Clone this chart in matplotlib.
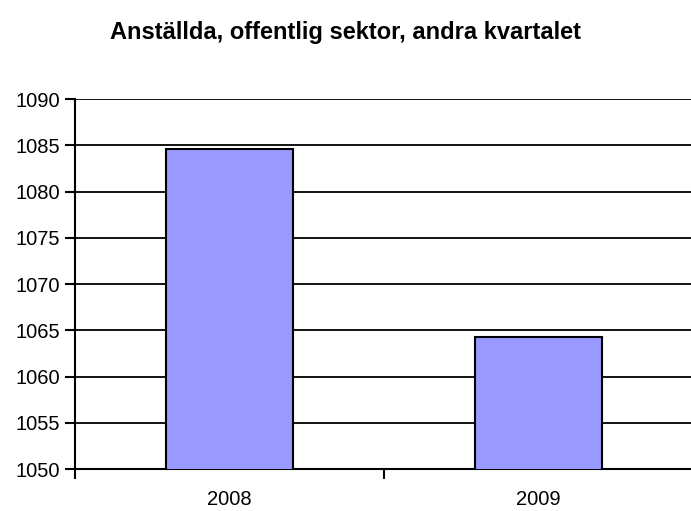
import numpy as np
import matplotlib.pyplot as plt

#----------------------------------------------------------------
#   DATA
#----------------------------------------------------------------
years = ["2008", "2009"]
employed = [1084.6, 1064.3]   # anställda, tusental
y_ticks = [1050, 1055, 1060, 1065, 1070, 1075, 1080, 1085, 1090]
title = "Anställda, offentlig sektor, andra kvartalet"

plt.rcParams['font.family'] = ['Liberation Sans', 'DejaVu Sans']

#----------------------------------------------------------------
#   PLOT
#----------------------------------------------------------------
fig = plt.figure(figsize=(6.91, 5.11), dpi=100)
ax = fig.add_axes([75 / 691, 1 - 469 / 511, 1 - 75 / 691 + 0.003, (469 - 99) / 511])

x = np.arange(len(years))
ax.bar(x, employed, width=0.41, color="#9999FF", edgecolor="black", linewidth=1.5, zorder=3)

ax.set_ylim(1050, 1090)
ax.set_xlim(-0.5, len(years) - 0.5)
ax.set_yticks(y_ticks)
ax.set_yticklabels([str(t) for t in y_ticks], fontsize=14.5)
ax.yaxis.grid(True, color="black", linewidth=1.3, zorder=0)
ax.set_axisbelow(True)

# category boundaries as ticks, labels in the middle
ax.set_xticks([-0.5, 0.5, 1.5])
ax.set_xticklabels([])
ax.set_xticks(x, minor=True)
ax.set_xticklabels(years, minor=True, fontsize=14.5)
ax.tick_params(axis="x", which="minor", length=0, pad=15)
ax.tick_params(axis="x", which="major", length=7, width=1.5, direction="out")
ax.tick_params(axis="y", length=7, width=1.5, direction="out", pad=4)

for s in ["top", "right"]:
    ax.spines[s].set_visible(False)
ax.spines["left"].set_linewidth(1.5)
ax.spines["bottom"].set_linewidth(1.5)

fig.text(0.5, 1 - 33 / 511, title, ha="center", va="center", fontsize=17, fontweight="bold")

fig.savefig("out.png", dpi=100)
